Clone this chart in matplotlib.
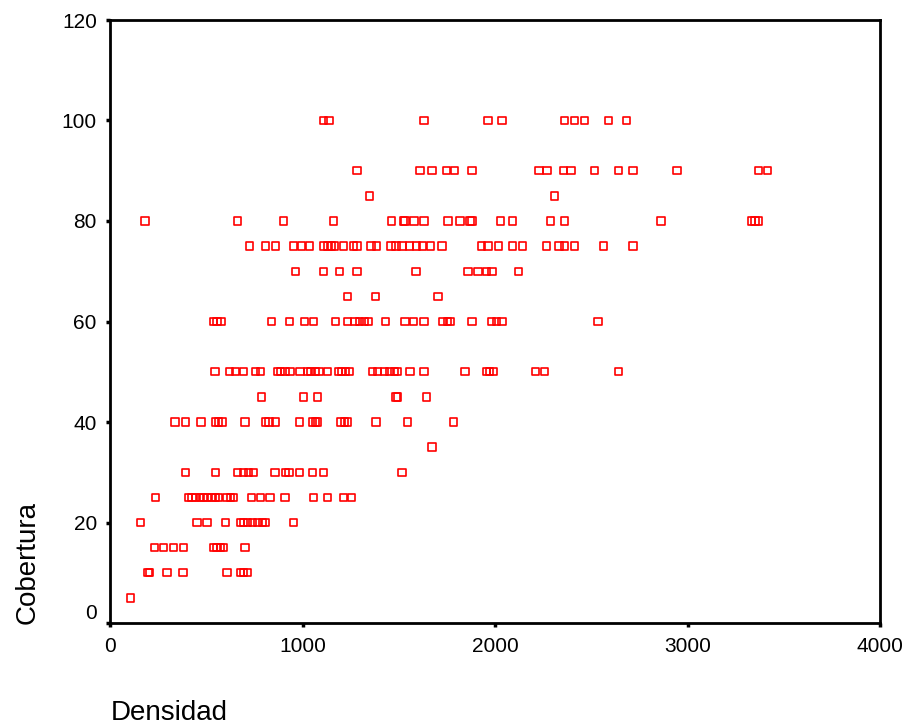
import matplotlib
matplotlib.use("Agg")
import matplotlib.pyplot as plt
import matplotlib.transforms as mtransforms

plt.rcParams['font.family'] = ['Liberation Sans', 'DejaVu Sans']

# Densidad values, grouped by Cobertura level
row_100 = [1109, 1137, 1631, 1964, 2037, 2361, 2413, 2465, 2590, 2684]
row_90 = [1283, 1610, 1672, 1749, 1790, 1881, 2228, 2270, 2357, 2395, 2517,
          2642, 2716, 2945, 3369, 3414]
row_85 = [1349, 2309]
row_80 = [181, 661, 901, 1161, 1464, 1523, 1533, 1579, 1631, 1756, 1819, 1871,
          1881, 2027, 2090, 2288, 2361, 2862, 3334, 3351, 3369]
row_75 = [723, 807, 859, 953, 995, 1036, 1109, 1133, 1151, 1165, 1213, 1265,
          1283, 1356, 1384, 1460, 1486, 1516, 1556, 1591, 1625, 1665, 1724,
          1930, 1964, 2017, 2090, 2142, 2267, 2333, 2361, 2413, 2565, 2716]
row_70 = [963, 1109, 1193, 1283, 1589, 1860, 1912, 1957, 1985, 2121]
row_65 = [1234, 1380, 1704]
row_60 = [539, 556, 577, 838, 932, 1012, 1057, 1172, 1234, 1272, 1295, 1321,
          1342, 1432, 1533, 1575, 1631, 1730, 1752, 1766, 1881, 1982, 2009,
          2037, 2535]
row_50 = [546, 622, 652, 692, 756, 782, 869, 887, 909, 935, 987, 1026, 1043,
          1066, 1086, 1130, 1186, 1203, 1222, 1243, 1365, 1391, 1425, 1452,
          1478, 1495, 1558, 1631, 1845, 1956, 1973, 1991, 2211, 2257, 2642]
row_45 = [786, 1005, 1078, 1486, 1495, 1643]
row_40 = [337, 391, 473, 548, 565, 582, 701, 808, 826, 860, 984, 1052, 1069,
          1078, 1200, 1217, 1234, 1382, 1547, 1786]
row_35 = [1672]
row_30 = [391, 548, 661, 695, 721, 747, 857, 913, 930, 984, 1053, 1109, 1516]
row_25 = [235, 408, 426, 443, 469, 487, 504, 530, 548, 565, 608, 626, 643,
          734, 782, 831, 909, 1057, 1130, 1213, 1255]
row_20 = [160, 452, 504, 600, 678, 695, 713, 739, 765, 791, 808, 953]
row_15 = [231, 278, 330, 382, 539, 556, 574, 588, 701]
row_10 = [198, 205, 296, 379, 608, 678, 695, 713]
row_5 = [108]

rows = {100: row_100, 90: row_90, 85: row_85, 80: row_80, 75: row_75,
        70: row_70, 65: row_65, 60: row_60, 50: row_50, 45: row_45,
        40: row_40, 35: row_35, 30: row_30, 25: row_25, 20: row_20,
        15: row_15, 10: row_10, 5: row_5}

densidad = []
cobertura = []
for cov, xs in rows.items():
    densidad += xs
    cobertura += [cov] * len(xs)

fig = plt.figure(figsize=(9.07, 7.26), dpi=100)
ax = fig.add_axes([110 / 907, 1 - 623 / 726, 770 / 907, 603 / 726])

ax.scatter(densidad, cobertura, marker='s', s=28, facecolors='none',
           edgecolors='#ff0000', linewidths=1.2)

ax.set_xlim(0, 4000)
ax.set_ylim(0, 120)
ax.set_xticks([0, 1000, 2000, 3000, 4000])
ax.set_yticks([0, 20, 40, 60, 80, 100, 120])
ax.tick_params(direction='out', length=3, width=2.5, labelsize=15)
ax.tick_params(axis='x', pad=7)
ax.tick_params(axis='y', pad=6.5)
for s in ax.spines.values():
    s.set_linewidth(2)

# the "0" on the y axis sits a bit above its tick in the original
fig.canvas.draw()
lbl0 = ax.get_yticklabels()[0]
lbl0.set_transform(lbl0.get_transform() +
                   mtransforms.ScaledTranslation(0, 8 / 72, fig.dpi_scale_trans))

fig.text(35 / 907, 1 - 562 / 726, 'Cobertura', rotation=90, fontsize=20,
         ha='center', va='baseline', rotation_mode='anchor')
fig.text(111 / 907, 1 - 720 / 726, 'Densidad', fontsize=20,
         ha='left', va='baseline')

fig.savefig('out.png', dpi=100)
